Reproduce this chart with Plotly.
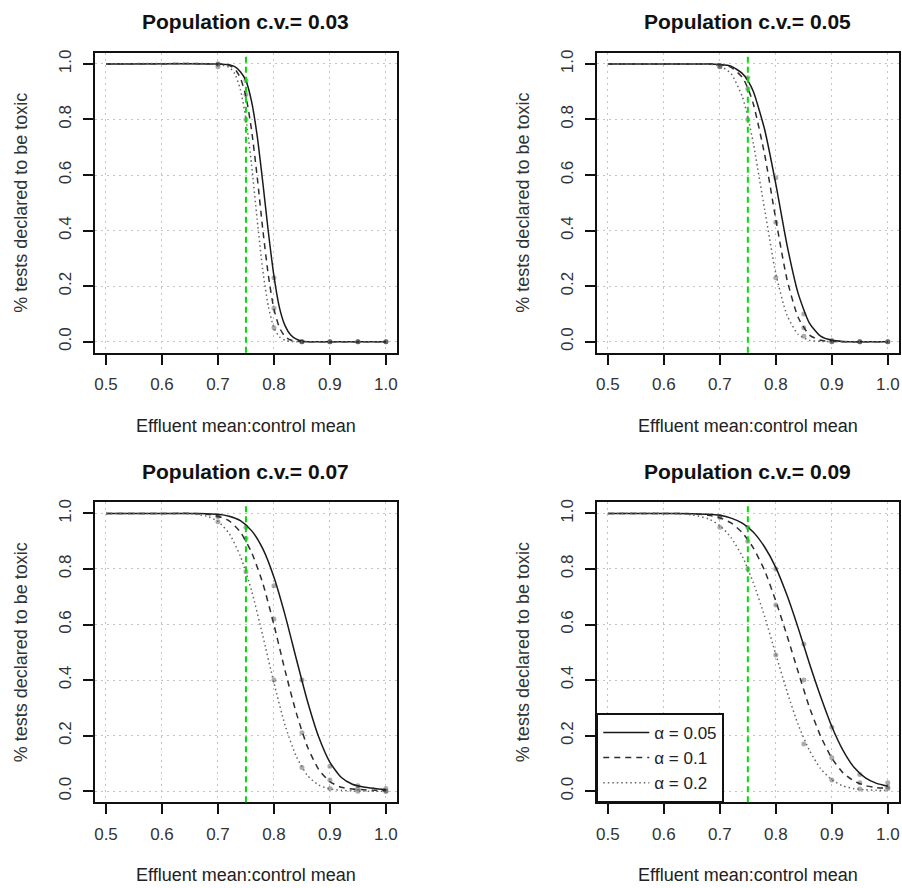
import plotly.graph_objects as go

# ---------------- data ----------------
CV_LABELS = ["0.03", "0.05", "0.07", "0.09"]
ALPHA_NAMES = ["\u03b1 = 0.05", "\u03b1 = 0.1", "\u03b1 = 0.2"]
THRESHOLD = 0.75
X_TICKS = [0.5, 0.6, 0.7, 0.8, 0.9, 1.0]
Y_TICKS = [0.0, 0.2, 0.4, 0.6, 0.8, 1.0]

# panel 1: c.v. = 0.03
x_cv03 = [0.50, 0.70, 0.72, 0.73, 0.74, 0.75, 0.76, 0.77, 0.78, 0.79, 0.80,
          0.81, 0.82, 0.83, 0.84, 0.85, 0.87, 0.90, 1.00]
a05_cv03 = [1.000, 1.000, 0.997, 0.990, 0.972, 0.940, 0.865, 0.742, 0.575, 0.395,
            0.236, 0.121, 0.057, 0.024, 0.009, 0.002, 0.000, 0.000, 0.000]
a10_cv03 = [1.000, 1.000, 0.995, 0.982, 0.950, 0.883, 0.762, 0.595, 0.405, 0.239,
            0.117, 0.050, 0.018, 0.006, 0.002, 0.000, 0.000, 0.000, 0.000]
a20_cv03 = [1.000, 0.999, 0.988, 0.965, 0.908, 0.802, 0.637, 0.440, 0.258, 0.127,
            0.050, 0.017, 0.005, 0.001, 0.000, 0.000, 0.000, 0.000, 0.000]

# panel 2: c.v. = 0.05
x_cv05 = [0.50, 0.65, 0.68, 0.70, 0.72, 0.74, 0.75, 0.76, 0.78, 0.80, 0.82,
          0.84, 0.86, 0.88, 0.90, 0.92, 0.95, 1.00]
a05_cv05 = [1.000, 1.000, 1.000, 0.998, 0.992, 0.966, 0.940, 0.900, 0.764, 0.567,
            0.348, 0.173, 0.067, 0.020, 0.005, 0.001, 0.000, 0.000]
a10_cv05 = [1.000, 1.000, 1.000, 0.998, 0.988, 0.952, 0.913, 0.855, 0.674, 0.440,
            0.224, 0.087, 0.024, 0.005, 0.001, 0.000, 0.000, 0.000]
a20_cv05 = [1.000, 1.000, 0.999, 0.993, 0.965, 0.883, 0.809, 0.712, 0.476, 0.245,
            0.095, 0.026, 0.005, 0.001, 0.000, 0.000, 0.000, 0.000]

# panel 3: c.v. = 0.07
x_cv07 = [0.50, 0.60, 0.65, 0.68, 0.70, 0.72, 0.74, 0.76, 0.78, 0.80, 0.82,
          0.84, 0.86, 0.88, 0.90, 0.92, 0.94, 0.96, 0.98, 1.00]
a05_cv07 = [1.000, 1.000, 1.000, 0.999, 0.997, 0.990, 0.974, 0.938, 0.873, 0.770,
            0.633, 0.476, 0.323, 0.195, 0.104, 0.050, 0.025, 0.015, 0.010, 0.006]
a10_cv07 = [1.000, 1.000, 1.000, 0.997, 0.990, 0.973, 0.933, 0.860, 0.749, 0.599,
            0.433, 0.281, 0.159, 0.078, 0.034, 0.014, 0.008, 0.005, 0.003, 0.002]
a20_cv07 = [1.000, 1.000, 0.999, 0.990, 0.971, 0.928, 0.846, 0.722, 0.560, 0.390,
            0.236, 0.125, 0.056, 0.022, 0.008, 0.003, 0.001, 0.000, 0.000, 0.000]

# panel 4: c.v. = 0.09
x_cv09 = [0.50, 0.60, 0.65, 0.68, 0.70, 0.72, 0.74, 0.76, 0.78, 0.80, 0.82,
          0.84, 0.86, 0.88, 0.90, 0.92, 0.94, 0.96, 0.98, 1.00]
a05_cv09 = [1.000, 1.000, 0.999, 0.997, 0.993, 0.983, 0.965, 0.932, 0.879, 0.805,
            0.705, 0.587, 0.460, 0.341, 0.233, 0.147, 0.085, 0.048, 0.028, 0.018]
a10_cv09 = [1.000, 1.000, 0.999, 0.993, 0.984, 0.966, 0.931, 0.875, 0.794, 0.684,
            0.560, 0.429, 0.302, 0.198, 0.119, 0.066, 0.036, 0.020, 0.013, 0.010]
a20_cv09 = [1.000, 1.000, 0.995, 0.980, 0.956, 0.913, 0.846, 0.749, 0.629, 0.492,
            0.359, 0.239, 0.147, 0.081, 0.041, 0.019, 0.009, 0.005, 0.003, 0.002]

# simulated proportions (grey points)
x_sim = [0.70, 0.75, 0.80, 0.85, 0.90, 0.95, 1.00]
s05_cv03 = [0.99, 0.94, 0.23, 0.00, 0.00, 0.00, 0.00]
s10_cv03 = [1.00, 0.89, 0.12, 0.00, 0.00, 0.00, 0.00]
s20_cv03 = [1.00, 0.80, 0.05, 0.00, 0.00, 0.00, 0.00]
s05_cv05 = [0.99, 0.95, 0.59, 0.10, 0.005, 0.00, 0.00]
s10_cv05 = [0.995, 0.91, 0.43, 0.05, 0.00, 0.00, 0.00]
s20_cv05 = [0.99, 0.80, 0.23, 0.02, 0.00, 0.00, 0.00]
s05_cv07 = [0.99, 0.95, 0.74, 0.40, 0.09, 0.02, 0.01]
s10_cv07 = [0.99, 0.91, 0.62, 0.21, 0.04, 0.01, 0.00]
s20_cv07 = [0.97, 0.79, 0.40, 0.085, 0.01, 0.00, 0.00]
s05_cv09 = [0.99, 0.95, 0.80, 0.53, 0.23, 0.06, 0.03]
s10_cv09 = [0.985, 0.90, 0.67, 0.40, 0.12, 0.03, 0.015]
s20_cv09 = [0.95, 0.80, 0.49, 0.17, 0.04, 0.008, 0.01]

# ---------------- layout / styling ----------------
W, H = 902, 888
FONT = "Liberation Sans, Arial, sans-serif"
# plot frames in pixels: (left, right, top, bottom)
FRAMES = [(94, 397, 50, 351), (597, 900, 50, 351),
          (94, 397, 501, 802), (597, 900, 501, 802)]


def px(v):
    return v / W


def py(v):
    return 1 - v / H


panels = [
    (x_cv03, [a05_cv03, a10_cv03, a20_cv03], [s05_cv03, s10_cv03, s20_cv03]),
    (x_cv05, [a05_cv05, a10_cv05, a20_cv05], [s05_cv05, s10_cv05, s20_cv05]),
    (x_cv07, [a05_cv07, a10_cv07, a20_cv07], [s05_cv07, s10_cv07, s20_cv07]),
    (x_cv09, [a05_cv09, a10_cv09, a20_cv09], [s05_cv09, s10_cv09, s20_cv09]),
]

line_styles = [
    dict(color="#1a1a1a", width=1.5, dash="solid"),
    dict(color="#2e2e2e", width=1.5, dash="6px,5px"),
    dict(color="#666666", width=1.5, dash="1.5px,3px"),
]

fig = go.Figure()

for i, (xv, curves, sims) in enumerate(panels):
    n = "" if i == 0 else str(i + 1)
    xa, ya = "x" + n, "y" + n
    for k in range(3):
        fig.add_trace(go.Scatter(
            x=x_sim, y=sims[k], xaxis=xa, yaxis=ya, mode="markers",
            marker=dict(size=5, color="rgba(70,70,70,0.45)"),
            showlegend=False, hoverinfo="skip"))
    for k in range(3):
        fig.add_trace(go.Scatter(
            x=xv, y=curves[k], xaxis=xa, yaxis=ya, mode="lines",
            line=dict(shape="spline", smoothing=0.6, **line_styles[k]),
            name=ALPHA_NAMES[k], showlegend=(i == 3)))
    fig.add_shape(type="line", xref=xa, yref=ya + " domain",
                  x0=THRESHOLD, x1=THRESHOLD, y0=0, y1=1,
                  line=dict(color="#00dd00", width=2, dash="6px,4px"))

axis_common = dict(
    showline=True, mirror=True, linecolor="#111", linewidth=1.8,
    ticks="outside", ticklen=10, tickwidth=1.6, tickcolor="#111",
    showgrid=True, gridcolor="#c4c4c4", griddash="2px,4px", gridwidth=1,
    zeroline=False, tickfont=dict(family=FONT, size=17, color="#333"),
)

annotations = []
for i, (l, r, t, b) in enumerate(FRAMES):
    n = "" if i == 0 else str(i + 1)
    fig.layout["xaxis" + n] = dict(
        domain=[px(l), px(r)], anchor="y" + n, range=[0.48, 1.02],
        tickvals=X_TICKS, ticktext=[f"{v:.1f}" for v in X_TICKS],
        ticklabelstandoff=5, **axis_common)
    fig.layout["yaxis" + n] = dict(
        domain=[py(b), py(t)], anchor="x" + n, range=[-0.04, 1.04],
        tickvals=Y_TICKS, ticktext=[f"{v:.1f}" for v in Y_TICKS],
        tickangle=-90, ticklabelstandoff=5, **axis_common)
    cx = (l + r) / 2
    annotations.append(dict(
        text=f"<b>Population c.v.= {CV_LABELS[i]}</b>", x=px(cx), y=py(t - 31),
        xref="paper", yref="paper", xanchor="center", yanchor="middle",
        showarrow=False, font=dict(family=FONT, size=21, color="#111")))
    annotations.append(dict(
        text="Effluent mean:control mean", x=px(cx), y=py(b + 73),
        xref="paper", yref="paper", xanchor="center", yanchor="middle",
        showarrow=False, font=dict(family=FONT, size=18, color="#222")))
    annotations.append(dict(
        text="% tests declared to be toxic", x=px(l - 74), y=py((t + b) / 2),
        xref="paper", yref="paper", xanchor="center", yanchor="middle",
        textangle=-90, showarrow=False, font=dict(family=FONT, size=18, color="#333")))

l4, r4, t4, b4 = FRAMES[3]
fig.update_layout(
    width=W, height=H, autosize=False,
    margin=dict(l=0, r=0, t=0, b=0),
    paper_bgcolor="white", plot_bgcolor="white",
    annotations=annotations,
    legend=dict(x=px(l4), y=py(b4), xanchor="left", yanchor="bottom",
                bgcolor="white", bordercolor="#111", borderwidth=1.6,
                font=dict(family=FONT, size=17, color="#222"),
                tracegroupgap=0, itemwidth=46),
    showlegend=True,
)

fig.write_html(
    "out.html",
    config={"displayModeBar": False},
    post_script="document.body.style.margin='0';document.body.style.overflow='hidden';",
)
